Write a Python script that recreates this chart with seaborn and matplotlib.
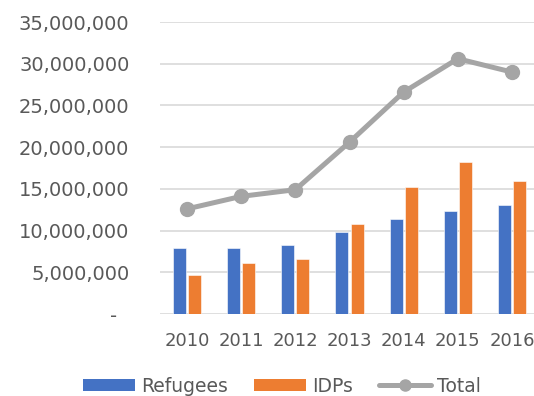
import matplotlib
matplotlib.use("Agg")
import matplotlib.pyplot as plt
from matplotlib.patches import Patch
from matplotlib.lines import Line2D
from matplotlib.ticker import FuncFormatter
import seaborn as sns
import pandas as pd

years = ["2010", "2011", "2012", "2013", "2014", "2015", "2016"]
refugees = [7.97e6, 7.97e6, 8.26e6, 9.82e6, 11.38e6, 12.30e6, 13.06e6]
idps = [4.65e6, 6.13e6, 6.57e6, 10.82e6, 15.26e6, 18.27e6, 15.90e6]
total = [12.6e6, 14.1e6, 14.9e6, 20.6e6, 26.6e6, 30.6e6, 29.0e6]

BLUE = "#4472C4"
ORANGE = "#ED7D31"
GRAY = "#A5A5A5"
TEXT = "#595959"
GRID = "#D9D9D9"

sns.set_theme(style="white")
plt.rcParams["font.family"] = ["DejaVu Sans"]

bars = pd.DataFrame({
    "Year": years * 2,
    "Value": refugees + idps,
    "Series": ["Refugees"] * len(years) + ["IDPs"] * len(years),
})
line = pd.DataFrame({"Year": years, "Value": total})

fig = plt.figure(figsize=(5.34, 3.96), dpi=100)
ax = fig.add_axes([160 / 534, 1 - 314 / 396, 379 / 534, 292 / 396])

sns.barplot(data=bars, x="Year", y="Value", hue="Series",
            palette=[BLUE, ORANGE], saturation=1, width=0.56, gap=0.14,
            edgecolor="white", linewidth=0.4, legend=False, ax=ax, zorder=2)
sns.pointplot(data=line, x="Year", y="Value", color=GRAY,
              markers="o", markersize=10, markeredgewidth=1,
              linewidth=3.6, ax=ax, zorder=3)

ax.set_ylim(0, 35e6)
ax.set_xlim(-0.5, 6.5)
ax.set_yticks([i * 5e6 for i in range(8)])
ax.yaxis.set_major_formatter(
    FuncFormatter(lambda v, _: "-  " if v == 0 else f"{int(v):,}"))
ax.yaxis.grid(True, color=GRID, linewidth=1.2)
ax.set_axisbelow(True)
for s in ax.spines.values():
    s.set_visible(False)
ax.set_xlabel("")
ax.set_ylabel("")
ax.tick_params(axis="y", length=0, pad=22, labelsize=14, labelcolor=TEXT)
ax.tick_params(axis="x", length=0, pad=13, labelsize=13, labelcolor=TEXT)

handles = [
    Patch(facecolor=BLUE, edgecolor="none", label="Refugees"),
    Patch(facecolor=ORANGE, edgecolor="none", label="IDPs"),
    Line2D([], [], color=GRAY, linewidth=3.6, marker="o", markersize=8,
           label="Total"),
]
fig.legend(handles=handles, loc="center", bbox_to_anchor=(282 / 534, 1 - 386 / 396),
           ncol=3, frameon=False, fontsize=13.5, labelcolor=TEXT,
           handlelength=2.77, handleheight=0.59, handletextpad=0.32,
           columnspacing=1.4, borderpad=0)

fig.savefig("out.png", dpi=100)
